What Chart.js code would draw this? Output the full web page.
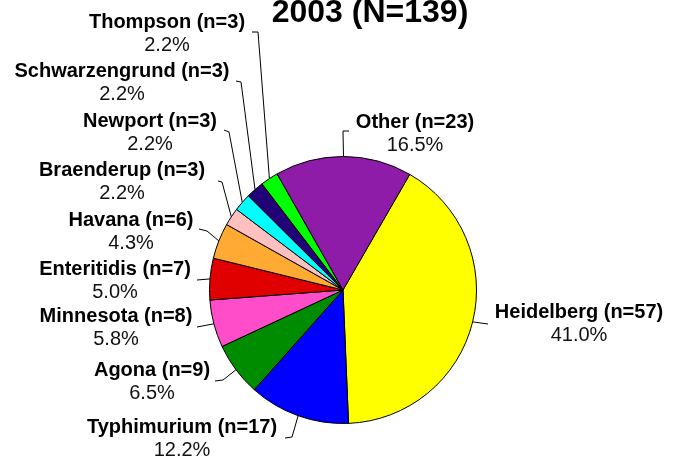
<!DOCTYPE html>
<html>
<head>
<meta charset="utf-8">
<script src="https://cdn.jsdelivr.net/npm/chart.js@4/dist/chart.umd.min.js"></script>
<style>
  body { margin: 0; background: #fff; }
  #wrap { width: 680px; height: 460px; }
</style>
</head>
<body>
<div id="wrap"><canvas id="pie" width="680" height="460"></canvas></div>
<script>
// data, clockwise starting from Heidelberg
const categories = ['Heidelberg', 'Typhimurium', 'Agona', 'Minnesota', 'Enteritidis', 'Havana',
    'Braenderup', 'Newport', 'Schwarzengrund', 'Thompson', 'Other'];
const counts = [57, 17, 9, 8, 7, 6, 3, 3, 3, 3, 23];
const titleText = '2003 (N=139)';

const colors = ['#FFFF00', '#0000FF', '#008C00', '#FF4DCA', '#E00000', '#FFAA33',
    '#FFC0C0', '#00FFFF', '#220077', '#00FF00', '#8E1CA8'];

// label positions (text center x, first baseline y) and leader line points before the slice
const labelPos = [
    { x: 579, y: 318, pts: [[488, 324]] },
    { x: 182, y: 433, pts: [[285, 438], [292, 437]] },
    { x: 152, y: 376, pts: [[215, 381], [223, 380]] },
    { x: 116, y: 322, pts: [[197, 327]] },
    { x: 115, y: 275, pts: [[197, 280]] },
    { x: 131, y: 226, pts: [[199, 229], [207, 231]] },
    { x: 122, y: 176, pts: [[218, 181], [222, 182]] },
    { x: 150, y: 127, pts: [[224, 130], [229, 132]] },
    { x: 122, y: 77, pts: [[236, 81], [241, 82]] },
    { x: 167, y: 28, pts: [[252, 32], [258, 32]] },
    { x: 415, y: 128, pts: [[349, 131], [343, 131]] }
];

const total = counts.reduce((a, b) => a + b, 0);

const labelPlugin = {
    id: 'pieLabels',
    afterDraw(chart) {
        const ctx = chart.ctx;
        const arcs = chart.getDatasetMeta(0).data;
        ctx.save();
        // title
        ctx.fillStyle = '#000';
        ctx.textAlign = 'center';
        ctx.textBaseline = 'alphabetic';
        ctx.font = 'bold 32px "Liberation Sans", Arial, sans-serif';
        ctx.fillText(titleText, 370, 22);

        arcs.forEach((arc, i) => {
            const p = arc.getProps(['x', 'y', 'startAngle', 'endAngle', 'outerRadius'], true);
            const mid = (p.startAngle + p.endAngle) / 2;
            const ex = p.x + Math.cos(mid) * p.outerRadius;
            const ey = p.y + Math.sin(mid) * p.outerRadius;
            const lp = labelPos[i];

            // leader line
            ctx.strokeStyle = '#000';
            ctx.lineWidth = 1;
            ctx.beginPath();
            ctx.moveTo(lp.pts[0][0], lp.pts[0][1]);
            for (let k = 1; k < lp.pts.length; k++) ctx.lineTo(lp.pts[k][0], lp.pts[k][1]);
            ctx.lineTo(ex, ey);
            ctx.stroke();

            // texts
            ctx.fillStyle = '#000';
            ctx.font = 'bold 20px "Liberation Sans", Arial, sans-serif';
            ctx.fillText(categories[i] + ' (n=' + counts[i] + ')', lp.x, lp.y);
            ctx.fillStyle = '#111';
            ctx.font = '20px "Liberation Sans", Arial, sans-serif';
            ctx.fillText((counts[i] / total * 100).toFixed(1) + '%', lp.x, lp.y + 23);
        });
        ctx.restore();
    }
};

new Chart(document.querySelector('#pie'), {
    type: 'pie',
    data: {
        labels: categories,
        datasets: [{
            data: counts,
            backgroundColor: colors,
            borderColor: '#000',
            borderWidth: 1
        }]
    },
    options: {
        responsive: false,
        animation: false,
        rotation: 30,
        layout: { padding: { left: 209, right: 203, top: 156, bottom: 36 } },
        plugins: {
            legend: { display: false },
            tooltip: { enabled: false }
        }
    },
    plugins: [labelPlugin]
});
</script>
</body>
</html>
